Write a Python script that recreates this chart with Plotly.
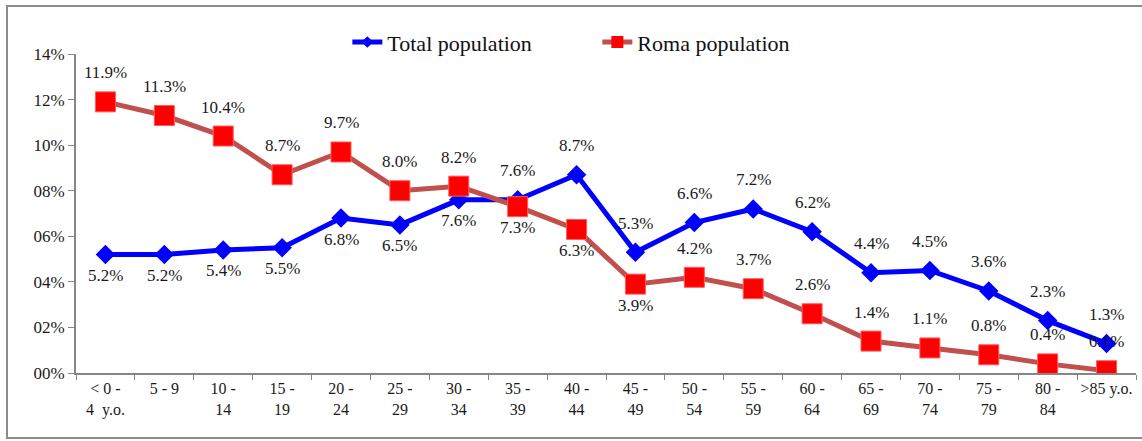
import plotly.graph_objects as go

# age groups (x categories)
age_groups = [
    "< 0 -<br>4  y.o.", "5 - 9", "10 -<br>14", "15 -<br>19", "20 -<br>24",
    "25 -<br>29", "30 -<br>34", "35 -<br>39", "40 -<br>44", "45 -<br>49",
    "50 -<br>54", "55 -<br>59", "60 -<br>64", "65 -<br>69", "70 -<br>74",
    "75 -<br>79", "80 -<br>84", ">85 y.o.",
]

# share of population, %
total_pop = [5.2, 5.2, 5.4, 5.5, 6.8, 6.5, 7.6, 7.6, 8.7, 5.3, 6.6, 7.2, 6.2, 4.4, 4.5, 3.6, 2.3, 1.3]
roma_pop = [11.9, 11.3, 10.4, 8.7, 9.7, 8.0, 8.2, 7.3, 6.3, 3.9, 4.2, 3.7, 2.6, 1.4, 1.1, 0.8, 0.4, 0.1]

# where the data label sits relative to the marker
total_label_pos = ["below"] * 7 + ["above"] * 11
roma_label_pos = ["above"] * 7 + ["below"] * 3 + ["above"] * 8

y_ticks = [0, 2, 4, 6, 8, 10, 12, 14]
y_ticktext = [f"{v:02d}%" for v in y_ticks]

FONT = "Liberation Serif"
AXIS_GREY = "#868686"
BLUE = "#0000ff"
ROMA_LINE = "#c0504d"
ROMA_MARK = "#ff0000"

fig = go.Figure()

fig.add_trace(go.Scatter(
    x=age_groups, y=total_pop,
    name="Total population",
    mode="lines+markers",
    line=dict(color=BLUE, width=5),
    marker=dict(symbol="diamond", size=15, color=BLUE),
    showlegend=False,
))

fig.add_trace(go.Scatter(
    x=age_groups, y=roma_pop,
    name="Roma population",
    mode="lines+markers",
    line=dict(color=ROMA_LINE, width=5),
    marker=dict(symbol="square", size=20, color=ROMA_MARK,
                line=dict(color="#ff5a5a", width=1)),
    showlegend=False,
))

# legend-only entries (smaller markers, like the original legend)
fig.add_trace(go.Scatter(
    x=[None], y=[None], name="Total population", mode="lines+markers",
    line=dict(color=BLUE, width=5),
    marker=dict(symbol="diamond", size=9, color=BLUE),
))
fig.add_trace(go.Scatter(
    x=[None], y=[None], name="Roma population", mode="lines+markers",
    line=dict(color=ROMA_LINE, width=5),
    marker=dict(symbol="square", size=12, color=ROMA_MARK),
))

# --- data labels ---
for values, positions in [(total_pop, total_label_pos), (roma_pop, roma_label_pos)]:
    for cat, v, pos in zip(age_groups, values, positions):
        fig.add_annotation(
            x=cat, y=v,
            text=f"{v:.1f}%",
            showarrow=False,
            yshift=29 if pos == "above" else -21,
            font=dict(family=FONT, size=17, color="#1a1a1a"),
        )

# outer chart border
fig.add_shape(
    type="rect", xref="paper", yref="paper",
    x0=-0.0651, x1=1.01, y0=-0.2038, y1=1.1505,
    line=dict(color="#8c8c8c", width=2),
    layer="below",
)

fig.update_layout(
    width=1142, height=441,
    paper_bgcolor="white",
    plot_bgcolor="white",
    font=dict(family=FONT, color="#1a1a1a", size=16),
    margin=dict(l=76, r=6, t=54, b=68),
    showlegend=True,
    legend=dict(
        orientation="h",
        x=0.256, xanchor="left",
        y=1.037, yanchor="middle",
        font=dict(size=22, family=FONT, color="#111111"),
        bgcolor="rgba(0,0,0,0)",
        entrywidth=205,
    ),
)

fig.update_xaxes(
    type="category",
    range=[-0.5, 17.5],
    showline=True, linecolor=AXIS_GREY, linewidth=2,
    ticks="outside", tickson="boundaries", ticklen=5, tickcolor=AXIS_GREY,
    showgrid=False, zeroline=False, tickangle=0,
    tickfont=dict(size=16, family=FONT, color="#1a1a1a"),
)
fig.update_yaxes(
    range=[0, 14],
    tickvals=y_ticks, ticktext=y_ticktext,
    showline=True, linecolor=AXIS_GREY, linewidth=2,
    ticks="outside", ticklen=6, tickcolor=AXIS_GREY,
    showgrid=False, zeroline=False,
    tickfont=dict(size=17, family=FONT, color="#1a1a1a"),
)

fig.write_html(
    "out.html",
    config={"displayModeBar": False},
    post_script="document.body.style.margin = '0';",
)
